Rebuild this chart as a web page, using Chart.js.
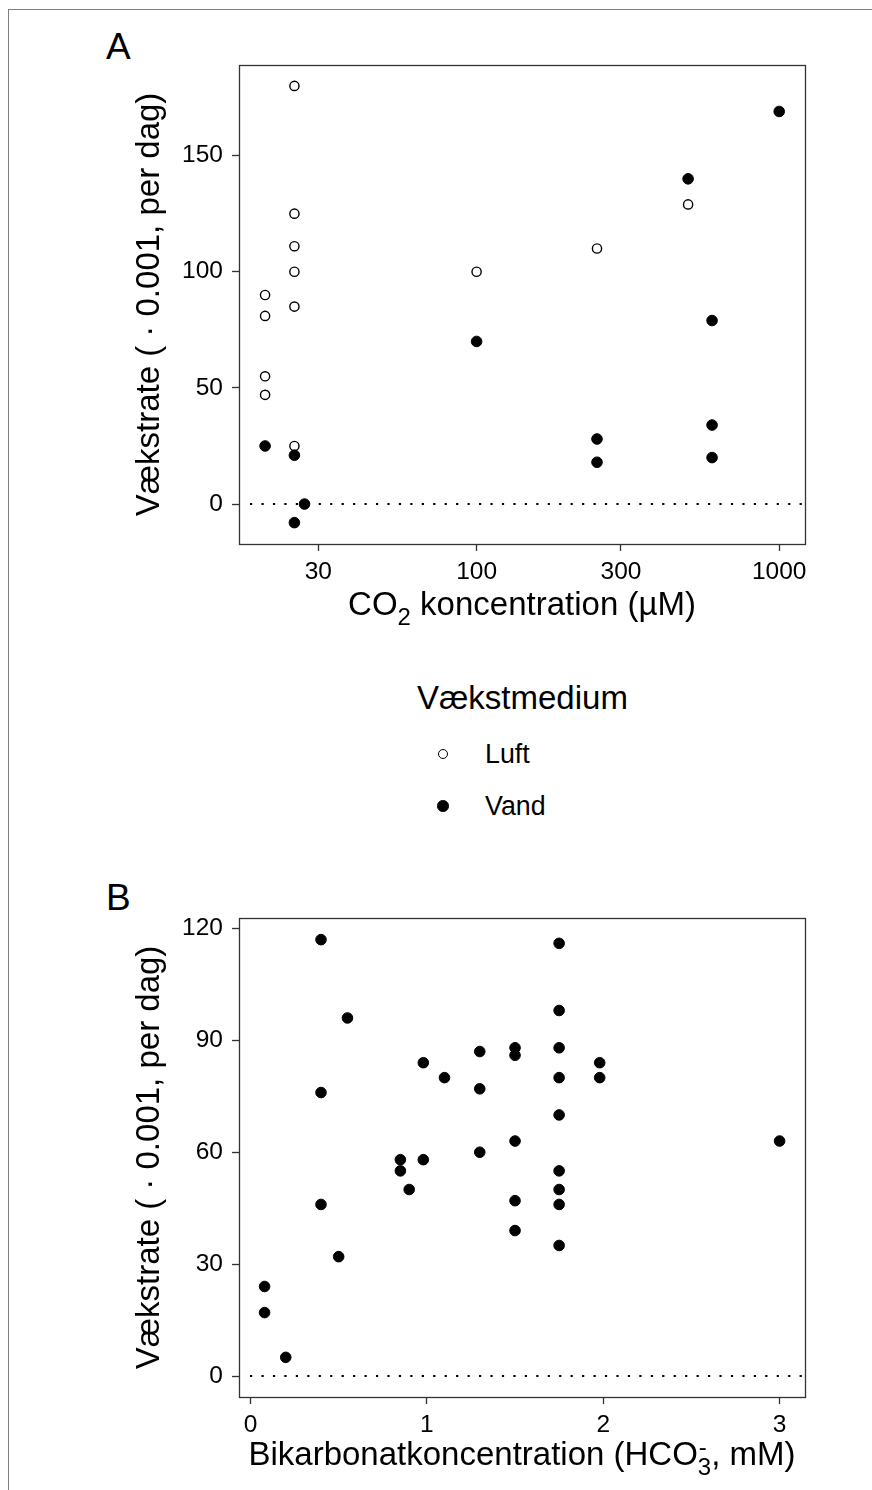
<!DOCTYPE html>
<html lang="da">
<head>
  <meta charset="UTF-8" />
  <meta name="viewport" content="width=device-width, initial-scale=1.0" />
  <title>Vækstrate mod CO2 og bikarbonat</title>
  <script src="https://cdn.jsdelivr.net/npm/chart.js"></script>
  <style>
    body { margin: 0; background: #fff; font-family: "Liberation Sans", Arial, sans-serif; }
    #page { position: relative; width: 872px; height: 1490px; overflow: hidden; background: #fff; }
    #frame {
      position: absolute; left: 8px; top: 9px; right: -5px; bottom: -5px;
      border-left: 1px solid #7f7f7f; border-top: 1px solid #7f7f7f;
    }
    canvas { position: absolute; left: 0; }
    .tag { position: absolute; left: 106px; font-size: 37px; line-height: 1; color: #000; }
    #legend { position: absolute; left: 0; top: 0; }
    .leg-title { position: absolute; left: 417px; top: 681px; font-size: 33px; line-height: 1; color: #000; white-space: nowrap; }
    .leg-item { position: absolute; left: 425px; height: 30px; display: flex; align-items: center; font-size: 26.8px; color: #000; }
    .leg-sym { display: inline-block; box-sizing: border-box; border-radius: 50%; }
    .leg-sym-wrap { width: 36px; height: 30px; display: flex; align-items: center; justify-content: center; margin-right: 24px; }
  </style>
</head>
<body>
<div id="page">
  <div id="frame"></div>
  <div class="tag" style="top: 28px;">A</div>
  <canvas id="chartA" width="872" height="660" style="top: 0;"></canvas>
  <div id="legend"></div>
  <div class="tag" style="top: 879px;">B</div>
  <canvas id="chartB" width="872" height="640" style="top: 850px;"></canvas>
</div>

<script>
// Panel A: CO2-koncentration (µM) og vækstrate (·0.001 per dag)
const luftCO2  = [20, 20, 20, 20, 25, 25, 25, 25, 25, 25, 100, 250, 500];
const luftRate = [90, 81, 55, 47, 180, 125, 111, 100, 85, 25, 100, 110, 129];
const vandCO2  = [20, 25, 25, 27, 100, 250, 250, 500, 600, 600, 600, 1000];
const vandRate = [25, 21, -8, 0, 70, 28, 18, 140, 79, 34, 20, 169];

// Panel B: bikarbonatkoncentration (mM) og vækstrate
const hco3     = [0.08, 0.08, 0.2, 0.4, 0.4, 0.4, 0.5, 0.55, 0.85, 0.85, 0.9, 0.98, 0.98, 1.1,
                  1.3, 1.3, 1.3, 1.5, 1.5, 1.5, 1.5, 1.5,
                  1.75, 1.75, 1.75, 1.75, 1.75, 1.75, 1.75, 1.75, 1.75, 1.98, 1.98, 3.0];
const hco3Rate = [24, 17, 5, 117, 76, 46, 32, 96, 58, 55, 50, 84, 58, 80,
                  87, 77, 60, 88, 86, 63, 47, 39,
                  116, 98, 88, 80, 70, 55, 50, 46, 35, 84, 80, 63];

const xTicksA = [30, 100, 300, 1000];
const yTicksA = [0, 50, 100, 150];
const xTicksB = [0, 1, 2, 3];
const yTicksB = [0, 30, 60, 90, 120];

const legendNames = ["Luft", "Vand"];
const yTitle = "Vækstrate ( · 0.001, per dag)";

const FONT = '"Liberation Sans", Arial, sans-serif';
const INK = "#333333";
const TITLE_SIZE = 33;

const toPoints = (xs, ys) => xs.map((x, i) => ({ x, y: ys[i] }));

const openStyle = { pointRadius: 4.6, borderWidth: 1.4, borderColor: "#000", backgroundColor: "#fff" };
const filledStyle = { pointRadius: 5.3, borderWidth: 1, borderColor: "#000", backgroundColor: "#000" };

// ramme om plotområdet
const panelBox = {
  id: "panelBox",
  afterDraw(chart) {
    const { ctx, chartArea: a } = chart;
    ctx.save();
    ctx.strokeStyle = INK;
    ctx.lineWidth = 1.3;
    ctx.strokeRect(a.left + 0.5, a.top + 0.5, a.right - a.left, a.bottom - a.top);
    ctx.restore();
  }
};

// prikket linje ved y = 0
const zeroLine = {
  id: "zeroLine",
  beforeDatasetsDraw(chart) {
    const { ctx, chartArea: a, scales } = chart;
    const y = Math.round(scales.y.getPixelForValue(0));
    ctx.save();
    ctx.strokeStyle = "#000";
    ctx.lineWidth = 2.2;
    ctx.setLineDash([2.2, 9.25]);
    ctx.beginPath();
    ctx.moveTo(a.left + 11, y);
    ctx.lineTo(a.right, y);
    ctx.stroke();
    ctx.restore();
  }
};

// x-aksetitel med sænket / hævet skrift
const xTitle = {
  id: "xTitle",
  afterDraw(chart, args, opts) {
    const { ctx, chartArea: a } = chart;
    const size = opts.size;
    const small = Math.round(size * 0.72);
    const mainFont = `${size}px ${FONT}`;
    const smallFont = `${small}px ${FONT}`;
    ctx.save();
    ctx.fillStyle = "#000";
    ctx.textAlign = "left";
    ctx.textBaseline = "alphabetic";
    let w = 0;
    opts.parts.forEach(p => {
      ctx.font = p.sub ? smallFont : mainFont;
      w += ctx.measureText(p.text).width;
    });
    let x = (a.left + a.right) / 2 - w / 2;
    const y = a.bottom + opts.offset;
    opts.parts.forEach(p => {
      ctx.font = p.sub ? smallFont : mainFont;
      ctx.fillText(p.text, x, p.sub ? y + size * 0.3 : y);
      if (p.sup) ctx.fillText(p.sup, x + 1, y - size * 0.3);
      x += ctx.measureText(p.text).width;
    });
    ctx.restore();
  }
};

function axisCommon(ticks) {
  return {
    afterBuildTicks: s => { s.ticks = ticks.map(v => ({ value: v })); },
    grid: { display: true, drawOnChartArea: false, drawTicks: true, tickLength: 7, tickColor: INK, tickWidth: 1.3 },
    border: { display: false }
  };
}

function makeChart(id, datasets, cfg) {
  const ctx = document.getElementById(id).getContext("2d");
  return new Chart(ctx, {
    type: "scatter",
    data: { datasets },
    plugins: [zeroLine, panelBox, xTitle],
    options: {
      responsive: false,
      animation: false,
      devicePixelRatio: 1,
      events: [],
      layout: { padding: { left: 120, right: 67, top: cfg.top, bottom: 0 } },
      plugins: {
        legend: { display: false },
        tooltip: { enabled: false },
        xTitle: { parts: cfg.xParts, size: TITLE_SIZE, offset: cfg.titleOffset }
      },
      scales: {
        x: {
          ...axisCommon(cfg.xTicks),
          type: cfg.xType,
          min: cfg.xMin,
          max: cfg.xMax,
          afterFit: s => { s.height = cfg.xHeight; },
          ticks: {
            autoSkip: false, maxRotation: 0, padding: 8.5,
            color: "#000", font: { family: FONT, size: 24.5, lineHeight: 1 },
            callback: v => String(v)
          }
        },
        y: {
          ...axisCommon(cfg.yTicks),
          min: cfg.yMin,
          max: cfg.yMax,
          afterFit: s => { s.width = 119; },
          ticks: {
            autoSkip: false, padding: 9,
            color: "#000", font: { family: FONT, size: 24.5, lineHeight: 1 },
            callback: v => String(v)
          },
          title: {
            display: true, text: yTitle, color: "#000",
            font: { family: FONT, size: TITLE_SIZE },
            padding: { top: 10, bottom: 0 }
          }
        }
      }
    }
  });
}

makeChart("chartA", [
  { label: "Vand", data: toPoints(vandCO2, vandRate), ...filledStyle },
  { label: "Luft", data: toPoints(luftCO2, luftRate), ...openStyle }
], {
  top: 65, xHeight: 116, xType: "logarithmic",
  xMin: 16.4, xMax: 1217, yMin: -17.2, yMax: 189,
  xTicks: xTicksA, yTicks: yTicksA, titleOffset: 71,
  xParts: [{ text: "CO" }, { text: "2", sub: true }, { text: " koncentration (µM)" }]
});

makeChart("chartB", [
  { label: "Vand", data: toPoints(hco3, hco3Rate), ...filledStyle }
], {
  top: 68, xHeight: 93, xType: "linear",
  xMin: -0.065, xMax: 3.144, yMin: -5.63, yMax: 122.8,
  xTicks: xTicksB, yTicks: yTicksB, titleOffset: 68,
  xParts: [{ text: "Bikarbonatkoncentration (HCO" }, { text: "3", sub: true, sup: "-" }, { text: ", mM)" }]
});

// forklaring mellem de to paneler
function drawLegend() {
  const box = document.getElementById("legend");
  const styles = { Luft: openStyle, Vand: filledStyle };
  let html = '<div class="leg-title">Vækstmedium</div>';
  legendNames.forEach((name, i) => {
    const st = styles[name];
    const d = st.pointRadius * 2 + st.borderWidth;
    html += `<div class="leg-item" style="top:${739 + i * 52}px">
      <span class="leg-sym-wrap"><span class="leg-sym" style="width:${d}px;height:${d}px;border:${st.borderWidth}px solid ${st.borderColor};background:${st.backgroundColor}"></span></span>${name}</div>`;
  });
  box.innerHTML = html;
}

window.addEventListener("DOMContentLoaded", drawLegend);
</script>
</body>
</html>
